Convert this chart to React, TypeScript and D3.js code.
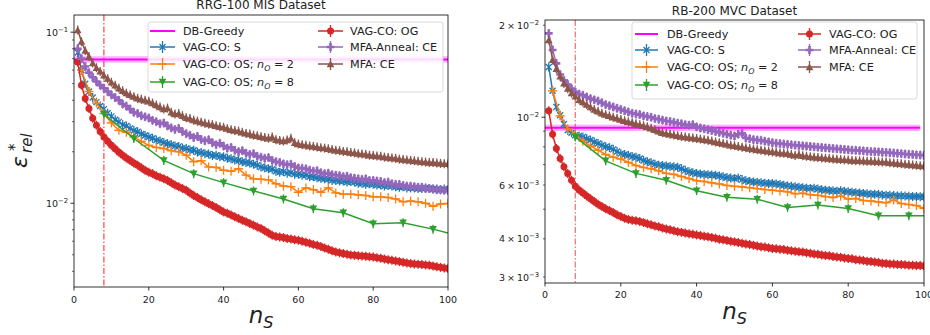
import React from "react";
import * as d3 from "d3";

const W = 930;
const H = 335;
const FONT = "'DejaVu Sans', 'Liberation Sans', sans-serif";

// sample counts n_S
const nsAll = d3.range(1, 101);
const nsEven = d3.range(2, 101, 2);
const nsEvery8 = [8, 16, 24, 32, 40, 48, 56, 64, 72, 80, 88, 96, 100];
const marks8 = [8, 16, 24, 32, 40, 48, 56, 64, 72, 80, 88, 96];

// RRG-100 MIS, eps_rel in units of 1e-3
const rrgGreedy = 69.3;
const rrgS = [
  76, 60, 50, 45, 41.5, 39, 37, 35.5, 33.6, 32.2,
  30.8, 29.9, 28.8, 28.3, 27.4, 26.6, 26.2, 25.4, 24.9, 24.4,
  24.0, 23.4, 23.1, 22.6, 22.3, 22.0, 21.6, 21.5, 21.0, 20.9,
  20.5, 20.4, 19.9, 19.8, 19.5, 19.4, 19.0, 19.1, 18.7, 18.7,
  18.3, 18.2, 17.9, 17.8, 17.5, 17.3, 17.2, 16.9, 16.7, 16.3,
  16.1, 15.9, 15.8, 15.4, 15.2, 15.3, 15.0, 15.1, 14.8, 14.8,
  14.6, 14.6, 14.3, 14.3, 14.1, 14.0, 13.9, 13.8, 13.6, 13.6,
  13.5, 13.5, 13.3, 13.4, 13.3, 13.1, 13.1, 12.9, 13.0, 12.9,
  12.8, 12.8, 12.6, 12.7, 12.6, 12.5, 12.4, 12.5, 12.3, 12.3,
  12.3, 12.2, 12.2, 12.3, 12.2, 12.1, 12.1, 12.0, 12.1, 12.0,
];
const rrgOS2 = [
  60, 45, 38.5, 33.5, 29.5, 26.7, 26.0, 24.4, 23.0, 21.8,
  21.2, 20.9, 20.3, 20.0, 19.1, 17.5, 17.7, 16.3, 16.2, 15.6,
  15.4, 15.9, 14.6, 13.9, 13.8, 13.7, 13.0, 12.6, 12.5, 11.6,
  12.3, 12.0, 11.6, 12.3, 11.5, 11.3, 11.3, 11.2, 11.1, 10.9,
  10.9, 10.8, 10.6, 10.2, 10.3, 10.2, 10.0, 9.6, 9.9, 9.97,
];
const rrgOS8 = [33.1, 23.9, 17.8, 14.9, 13.2, 11.8, 10.6, 9.3, 8.8, 7.6, 7.7, 7.06, 6.7];
const rrgOG = [
  67.0, 49.0, 41.0, 35.8, 31.4, 28.6, 26.3, 24.4, 23.0, 21.8,
  20.8, 19.9, 19.1, 18.4, 17.8, 17.2, 16.7, 16.1, 15.6, 15.2,
  14.9, 14.5, 14.2, 13.9, 13.6, 13.2, 12.8, 12.5, 12.2, 11.9,
  11.5, 11.1, 10.8, 10.5, 10.2, 9.95, 9.7, 9.45, 9.15, 8.9,
  8.75, 8.55, 8.35, 8.15, 7.96, 7.8, 7.62, 7.45, 7.27, 7.11,
  6.9, 6.7, 6.5, 6.4, 6.35, 6.3, 6.22, 6.18, 6.12, 6.08,
  6.0, 5.92, 5.84, 5.75, 5.68, 5.58, 5.48, 5.38, 5.28, 5.19,
  5.13, 5.08, 5.03, 4.99, 4.96, 4.94, 4.92, 4.9, 4.87, 4.85,
  4.81, 4.77, 4.72, 4.68, 4.64, 4.6, 4.56, 4.52, 4.48, 4.44,
  4.42, 4.4, 4.38, 4.36, 4.34, 4.3, 4.26, 4.22, 4.18, 4.15,
];
const rrgAnneal = [
  80, 70, 63, 58, 54.5, 51.5, 49, 47, 45, 43,
  41.5, 40, 38, 37, 35.5, 34, 33.5, 32.5, 32, 31.5,
  30.5, 30.0, 29.2, 29.5, 28.3, 27.6, 27.0, 27.4, 26.2, 25.5,
  25.0, 24.2, 24.6, 23.6, 23.2, 23.5, 22.6, 22.0, 22.4, 21.6,
  21.0, 21.2, 20.4, 20.0, 20.3, 19.6, 19.3, 19.5, 18.8, 18.6,
  18.3, 18.5, 17.8, 17.5, 17.3, 17.0, 16.8, 16.9, 16.4, 16.1,
  16.0, 15.9, 15.6, 15.4, 15.5, 15.1, 14.9, 15.0, 14.7, 14.6,
  14.5, 14.3, 14.4, 14.1, 14.0, 13.9, 13.8, 13.9, 13.6, 13.6,
  13.5, 13.4, 13.2, 13.3, 13.0, 12.9, 12.9, 12.7, 12.6, 12.6,
  12.5, 12.4, 12.4, 12.2, 12.2, 12.1, 12.0, 12.0, 11.9, 11.9,
];
const rrgMFA = [
  103, 88, 78, 72, 66, 62, 59, 56, 53.5, 51,
  49, 47, 45.5, 44, 43, 42, 41, 40.5, 40, 39.5,
  38.5, 37.5, 36.5, 35.5, 36.0, 34.0, 33.2, 33.5, 32.5, 31.6,
  31.3, 30.6, 30.2, 29.8, 29.4, 29.0, 28.8, 28.4, 28.0, 27.8,
  27.3, 26.9, 26.6, 26.4, 26.0, 25.6, 25.4, 25.0, 24.8, 24.5,
  24.2, 24.0, 24.4, 23.5, 23.3, 23.1, 23.4, 24.0, 22.6, 22.2,
  22.0, 21.8, 21.6, 21.5, 21.3, 21.1, 21.0, 20.8, 20.6, 20.4,
  20.3, 20.1, 20.0, 19.8, 19.7, 19.5, 19.4, 19.3, 19.1, 19.0,
  18.9, 18.8, 18.6, 18.5, 18.4, 18.3, 18.1, 18.0, 17.9, 17.8,
  17.7, 17.6, 17.5, 17.4, 17.3, 17.3, 17.2, 17.1, 17.0, 17.0,
];

// RB-200 MVC, eps_rel in units of 1e-3
const rbGreedy = 9.23;
const rbS = [
  14.6, 12.2, 10.8, 10.15, 9.5, 9.07, 8.9, 8.73, 8.68, 8.62,
  8.5, 8.42, 8.3, 8.2, 8.1, 8.0, 7.95, 7.85, 7.72, 7.6,
  7.55, 7.5, 7.44, 7.4, 7.33, 7.22, 7.15, 7.1, 7.02, 6.97,
  6.95, 6.92, 6.9, 6.88, 6.86, 6.78, 6.7, 6.63, 6.58, 6.54,
  6.52, 6.5, 6.48, 6.47, 6.46, 6.42, 6.38, 6.35, 6.32, 6.3,
  6.33, 6.25, 6.2, 6.16, 6.14, 6.12, 6.1, 6.08, 6.07, 6.07,
  6.05, 6.02, 5.99, 5.96, 5.94, 5.92, 5.9, 5.88, 5.86, 5.85,
  5.86, 5.82, 5.79, 5.77, 5.76, 5.75, 5.73, 5.75, 5.72, 5.7,
  5.68, 5.66, 5.65, 5.63, 5.62, 5.6, 5.6, 5.59, 5.57, 5.56,
  5.55, 5.54, 5.53, 5.53, 5.52, 5.51, 5.5, 5.5, 5.49, 5.49,
];
const rbOS2 = [
  12.2, 10.1, 9.15, 8.84, 8.35, 8.05, 7.8, 7.55, 7.4, 7.3,
  7.12, 6.95, 6.85, 6.78, 6.68, 6.55, 6.5, 6.4, 6.3, 6.2,
  6.16, 6.1, 6.05, 5.98, 5.94, 5.92, 5.88, 5.84, 5.8, 5.77,
  5.74, 5.7, 5.62, 5.64, 5.58, 5.55, 5.5, 5.46, 5.52, 5.4,
  5.42, 5.34, 5.32, 5.28, 5.25, 5.36, 5.22, 5.18, 5.14, 5.03,
];
const rbOS8 = [8.62, 7.2, 6.55, 6.22, 5.75, 5.47, 5.39, 5.07, 5.16, 5.03, 4.76, 4.76, 4.76];
const rbOG = [
  10.5, 8.8, 7.9, 7.33, 6.88, 6.54, 6.22, 5.95, 5.78, 5.65,
  5.52, 5.41, 5.3, 5.19, 5.1, 5.02, 4.95, 4.88, 4.8, 4.73,
  4.67, 4.63, 4.6, 4.58, 4.56, 4.52, 4.48, 4.45, 4.41, 4.38,
  4.34, 4.31, 4.28, 4.25, 4.22, 4.2, 4.18, 4.16, 4.14, 4.12,
  4.1, 4.08, 4.06, 4.04, 4.02, 3.99, 3.97, 3.95, 3.93, 3.91,
  3.89, 3.87, 3.85, 3.83, 3.81, 3.79, 3.77, 3.76, 3.74, 3.72,
  3.71, 3.7, 3.69, 3.67, 3.66, 3.64, 3.63, 3.62, 3.6, 3.59,
  3.57, 3.56, 3.54, 3.53, 3.52, 3.5, 3.49, 3.48, 3.46, 3.45,
  3.44, 3.42, 3.41, 3.4, 3.38, 3.37, 3.36, 3.35, 3.33, 3.32,
  3.31, 3.31, 3.3, 3.3, 3.29, 3.28, 3.28, 3.27, 3.27, 3.26,
];
const rbAnneal = [
  18.8, 16.6, 15.0, 13.8, 13.2, 12.8, 12.4, 12.1, 11.9, 11.8,
  11.65, 11.5, 11.4, 11.3, 11.15, 11.0, 10.9, 10.8, 10.7, 10.6,
  10.5, 10.4, 10.3, 10.25, 10.2, 10.1, 10.05, 10.0, 9.9, 9.85,
  9.78, 9.72, 9.68, 9.62, 9.56, 9.52, 9.45, 9.42, 9.46, 9.3,
  9.22, 9.16, 9.1, 9.04, 8.98, 8.92, 8.86, 8.8, 8.73, 8.68,
  8.8, 8.86, 8.55, 8.5, 8.45, 8.42, 8.4, 8.35, 8.3, 8.25,
  8.22, 8.2, 8.17, 8.15, 8.12, 8.1, 8.08, 8.06, 8.04, 8.02,
  8.0, 7.98, 7.96, 7.94, 7.92, 7.9, 7.88, 7.86, 7.84, 7.82,
  7.8, 7.79, 7.77, 7.76, 7.74, 7.72, 7.71, 7.7, 7.68, 7.67,
  7.65, 7.63, 7.62, 7.6, 7.58, 7.56, 7.55, 7.53, 7.52, 7.51,
];
const rbMFA = [
  17.9, 15.4, 14.4, 13.6, 12.9, 12.4, 12.0, 11.7, 11.4, 11.2,
  11.0, 10.8, 10.6, 10.45, 10.3, 10.2, 10.1, 10.0, 9.92, 9.82,
  9.74, 9.66, 9.6, 9.52, 9.45, 9.38, 9.3, 9.2, 9.1, 9.0,
  8.9, 8.85, 8.8, 8.75, 8.7, 8.65, 8.62, 8.58, 8.55, 8.52,
  8.48, 8.44, 8.4, 8.36, 8.3, 8.25, 8.2, 8.15, 8.1, 8.07,
  8.02, 7.98, 7.94, 7.9, 7.87, 7.83, 7.8, 7.76, 7.73, 7.7,
  7.67, 7.64, 7.62, 7.6, 7.55, 7.5, 7.55, 7.48, 7.45, 7.42,
  7.4, 7.38, 7.36, 7.34, 7.32, 7.3, 7.28, 7.27, 7.25, 7.24,
  7.22, 7.21, 7.2, 7.19, 7.18, 7.17, 7.16, 7.15, 7.14, 7.13,
  7.1, 7.08, 7.06, 7.04, 7.02, 7.0, 6.98, 6.96, 6.94, 6.92,
];

const xTicks = [0, 20, 40, 60, 80, 100];

type Series = {
  label: string;
  sub?: string;
  color: string;
  marker: string;
  xs: number[];
  ys: number[];
  markAt?: number[];
};

const seriesFor = (s: number[], os2: number[], os8: number[], og: number[], ann: number[], mfa: number[]): Series[] => [
  { label: "VAG-CO: S", color: "#1f77b4", marker: "x", xs: nsAll, ys: s },
  { label: "VAG-CO: OS; ", sub: "2", color: "#ff7f0e", marker: "+", xs: nsEven, ys: os2 },
  { label: "VAG-CO: OS; ", sub: "8", color: "#2ca02c", marker: "v", xs: nsEvery8, ys: os8, markAt: marks8 },
  { label: "VAG-CO: OG", color: "#d62728", marker: "o", xs: nsAll, ys: og },
  { label: "MFA-Anneal: CE", color: "#9467bd", marker: "P", xs: nsAll, ys: ann },
  { label: "MFA: CE", color: "#8c564b", marker: "^", xs: nsAll, ys: mfa },
];

const panels = [
  {
    id: "rrg",
    title: "RRG-100 MIS Dataset",
    titleY: 8.5,
    x0: 74, x1: 448, y0: 15, y1: 287,
    yDomain: [3.24, 126],
    yLabels: [
      { v: 100, pre: "", exp: "\u22121" },
      { v: 10, pre: "", exp: "\u22122" },
    ],
    majors: [100, 10],
    minors: [4, 5, 6, 7, 8, 9, 20, 30, 40, 50, 60, 70, 80, 90],
    greedy: rrgGreedy,
    greedyTo: 100,
    series: seriesFor(rrgS, rrgOS2, rrgOS8, rrgOG, rrgAnneal, rrgMFA),
    xTickY: 303,
    xLabelY: 323,
    yLabel: true,
    vline: { color: "#ff1a1a", width: 1, opacity: 1 },
    legend: { x: 148, y: 22, w: 295, h: 70, rows: [31, 47, 64, 82], c1: 150, c2: 318, hw: 25, t1: 183, t2: 350 },
  },
  {
    id: "rb",
    title: "RB-200 MVC Dataset",
    titleY: 14.5,
    x0: 545, x1: 924, y0: 20, y1: 283,
    yDomain: [2.868, 20.8],
    yLabels: [
      { v: 20, pre: "2\u2009\u00d7\u200910", exp: "\u22122" },
      { v: 10, pre: "10", exp: "\u22122" },
      { v: 6, pre: "6\u2009\u00d7\u200910", exp: "\u22123" },
      { v: 4, pre: "4\u2009\u00d7\u200910", exp: "\u22123" },
      { v: 3, pre: "3\u2009\u00d7\u200910", exp: "\u22123" },
    ],
    majors: [10],
    minors: [3, 4, 5, 6, 7, 8, 9, 20],
    greedy: rbGreedy,
    greedyTo: 99,
    series: seriesFor(rbS, rbOS2, rbOS8, rbOG, rbAnneal, rbMFA),
    xTickY: 298,
    xLabelY: 319,
    yLabel: false,
    vline: { color: "#f26b6b", width: 1.4, opacity: 0.85 },
    legend: { x: 632, y: 22, w: 285, h: 77, rows: [34, 50, 67, 85], c1: 635, c2: 798, hw: 23, t1: 667, t2: 829 },
  },
];

const Marker = ({ kind, color, x, y, bar }: { kind: string; color: string; x: number; y: number; bar: number }) => {
  let shape: React.ReactNode = null;
  if (kind === "o") shape = <circle r={3.5} fill={color} />;
  else if (kind === "x")
    shape = <path d="M-3,-3L3,3M-3,3L3,-3" stroke={color} strokeWidth={1.3} fill="none" />;
  else if (kind === "+")
    shape = <path d="M-4.5,0L4.5,0" stroke={color} strokeWidth={1.5} fill="none" />;
  else if (kind === "v") shape = <path d="M-3.8,-3.2L3.8,-3.2L0,3.8Z" fill={color} />;
  else if (kind === "^") shape = <path d="M-3.8,3.2L3.8,3.2L0,-3.8Z" fill={color} />;
  else if (kind === "P") shape = <path d={d3.symbol(d3.symbolCross, 34)() || ""} fill={color} />;
  return (
    <g transform={`translate(${x},${y})`}>
      <line y1={-bar} y2={bar} stroke={color} strokeWidth={1.3} />
      {shape}
    </g>
  );
};

const Label = ({ s }: { s: Series }) =>
  s.sub ? (
    <>
      {s.label}
      <tspan fontStyle="italic">n</tspan>
      <tspan fontStyle="italic" fontSize="0.7em" dy={3}>O</tspan>
      <tspan dy={-3}>{` = ${s.sub}`}</tspan>
    </>
  ) : (
    <>{s.label}</>
  );

const Panel = ({ p }: { p: (typeof panels)[number] }) => {
  const x = d3.scaleLinear().domain([0, 100]).range([p.x0, p.x1]);
  const y = d3.scaleLog().domain(p.yDomain).range([p.y1, p.y0]);
  const line = d3
    .line<[number, number]>()
    .x((d) => x(d[0]))
    .y((d) => y(d[1]));
  const clipId = `clip-${p.id}`;
  const lg = p.legend;
  const col1 = [null, ...p.series.slice(0, 3)];
  const col2 = p.series.slice(3);
  const xc = (p.x0 + p.x1) / 2;

  return (
    <g>
      <defs>
        <clipPath id={clipId}>
          <rect x={p.x0} y={p.y0} width={p.x1 - p.x0} height={p.y1 - p.y0} />
        </clipPath>
      </defs>

      <text x={xc} y={p.titleY} fontSize={12} textAnchor="middle">
        {p.title}
      </text>

      <g clipPath={`url(#${clipId})`}>
        {/* n_O = 8 marker */}
        <line
          x1={x(8)}
          x2={x(8)}
          y1={p.y0}
          y2={p.y1}
          stroke={p.vline.color}
          strokeWidth={p.vline.width}
          opacity={p.vline.opacity}
          strokeDasharray="6,2,1.5,2"
        />
        {/* DB-Greedy baseline */}
        <rect
          x={x(0)}
          width={x(p.greedyTo) - x(0)}
          y={y(p.greedy) - 3.2}
          height={6.4}
          fill="#ff00ff"
          opacity={0.3}
        />
        <line x1={x(0)} x2={x(p.greedyTo)} y1={y(p.greedy)} y2={y(p.greedy)} stroke="#ff00ff" strokeWidth={2} />

        {p.series.map((s, i) => {
          const pts = s.xs.map((n, j) => [n, s.ys[j]] as [number, number]);
          const marked = s.markAt ? pts.filter((d) => s.markAt!.includes(d[0])) : pts;
          return (
            <g key={i}>
              <path d={line(pts) || ""} fill="none" stroke={s.color} strokeWidth={1.5} />
              {marked.map((d, j) => (
                <Marker key={j} kind={s.marker} color={s.color} x={x(d[0])} y={y(d[1])} bar={4.5} />
              ))}
            </g>
          );
        })}
      </g>

      {/* frame */}
      <rect x={p.x0} y={p.y0} width={p.x1 - p.x0} height={p.y1 - p.y0} fill="none" stroke="#000" strokeWidth={0.8} />

      {/* x axis */}
      {xTicks.map((t) => (
        <g key={t}>
          <line x1={x(t)} x2={x(t)} y1={p.y1} y2={p.y1 + 3.5} stroke="#000" strokeWidth={0.8} />
          <text x={x(t)} y={p.xTickY} fontSize={9.5} textAnchor="middle">
            {t}
          </text>
        </g>
      ))}
      <text x={xc} y={p.xLabelY} fontSize={23} textAnchor="middle">
        <tspan fontStyle="italic">n</tspan>
        <tspan fontStyle="italic" fontSize={16} dy={5}>S</tspan>
      </text>

      {/* y axis */}
      {p.majors.map((v) => (
        <line key={`M${v}`} x1={p.x0 - 3.5} x2={p.x0} y1={y(v)} y2={y(v)} stroke="#000" strokeWidth={0.8} />
      ))}
      {p.minors.map((v) => (
        <line key={`m${v}`} x1={p.x0 - 2} x2={p.x0} y1={y(v)} y2={y(v)} stroke="#000" strokeWidth={0.6} />
      ))}
      {p.yLabels.map((l) => (
        <text key={`l${l.v}`} x={p.x0 - 6} y={y(l.v) + 3.5} fontSize={9.5} textAnchor="end">
          {l.pre || "10"}
          <tspan fontSize={6.8} dy={-4}>{l.exp}</tspan>
        </text>
      ))}
      {p.yLabel && (
        <g transform="translate(27,168) rotate(-90)">
          <text x={0} y={0} fontSize={22} fontStyle="italic">ε</text>
          <text x={17} y={-7.5} fontSize={15}>*</text>
          <text x={15} y={5} fontSize={15} fontStyle="italic">rel</text>
        </g>
      )}

      {/* legend */}
      <rect x={lg.x} y={lg.y} width={lg.w} height={lg.h} rx={2.5} fill="#fff" fillOpacity={0.85} stroke="#cfcfcf" strokeWidth={0.8} />
      {col1.map((s, i) => {
        const ry = lg.rows[i];
        if (!s)
          return (
            <g key="greedy">
              <line x1={lg.c1} x2={lg.c1 + lg.hw} y1={ry} y2={ry} stroke="#ff00ff" strokeWidth={2} />
              <text x={lg.t1} y={ry + 4} fontSize={11.2}>
                DB-Greedy
              </text>
            </g>
          );
        return (
          <g key={`a${i}`}>
            <line x1={lg.c1} x2={lg.c1 + lg.hw} y1={ry} y2={ry} stroke={s.color} strokeWidth={1.5} />
            <Marker kind={s.marker} color={s.color} x={lg.c1 + lg.hw / 2} y={ry} bar={6} />
            <text x={lg.t1} y={ry + 4} fontSize={11.2}>
              <Label s={s} />
            </text>
          </g>
        );
      })}
      {col2.map((s, i) => {
        const ry = lg.rows[i];
        return (
          <g key={`b${i}`}>
            <line x1={lg.c2} x2={lg.c2 + lg.hw} y1={ry} y2={ry} stroke={s.color} strokeWidth={1.5} />
            <Marker kind={s.marker} color={s.color} x={lg.c2 + lg.hw / 2} y={ry} bar={6} />
            <text x={lg.t2} y={ry + 4} fontSize={11.2}>
              <Label s={s} />
            </text>
          </g>
        );
      })}
    </g>
  );
};

export default function App() {
  return (
    <svg
      width={W}
      height={H}
      viewBox={`0 0 ${W} ${H}`}
      style={{ position: "absolute", left: 0, top: 0, background: "#fff" }}
      fontFamily={FONT}
      fill="#222"
    >
      {panels.map((p) => (
        <Panel key={p.id} p={p} />
      ))}
    </svg>
  );
}
